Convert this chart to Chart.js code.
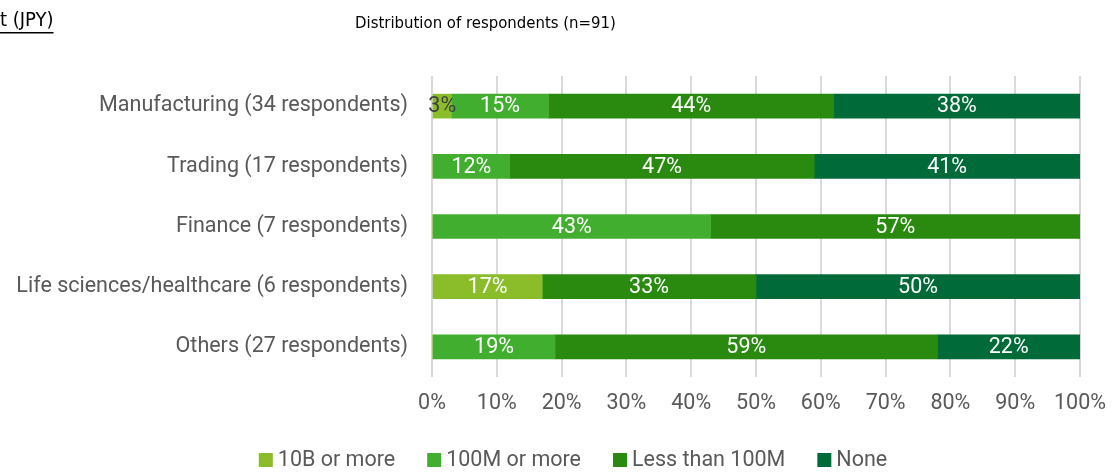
<!DOCTYPE html>
<html>
<head>
<meta charset="utf-8">
<script src="https://cdn.jsdelivr.net/npm/chart.js@4.4.1/dist/chart.umd.min.js"></script>
<style>
  html, body { margin: 0; padding: 0; background: #ffffff; }
  #wrap { width: 1118px; height: 473px; position: relative; }
</style>
</head>
<body>
<div id="wrap"><canvas id="chart"></canvas></div>
<script>
// Industry groups (y axis)
const categories = [
  'Manufacturing (34 respondents)',
  'Trading (17 respondents)',
  'Finance (7 respondents)',
  'Life sciences/healthcare (6 respondents)',
  'Others (27 respondents)'
];

// Share of respondents per answer, in percent
const seriesNames = ['10B or more', '100M or more', 'Less than 100M', 'None'];
const tenBOrMore     = [3, 0, 0, 17, 0];
const hundredMOrMore = [15, 12, 43, 0, 19];
const lessThan100M   = [44, 47, 57, 33, 59];
const noneValues     = [38, 41, 0, 50, 22];

const xTicks = [0, 10, 20, 30, 40, 50, 60, 70, 80, 90, 100];

const colors = ['#8BBD2A', '#42AE2F', '#2A8A10', '#006A38'];
const FONT = 'Roboto, "Noto Sans", sans-serif';
const SIZE = 21.5;
const GREY = '#595959';

// Percent labels drawn in the middle of each segment
const segmentLabels = {
  id: 'segmentLabels',
  afterDatasetsDraw(chart) {
    const ctx = chart.ctx;
    ctx.save();
    ctx.font = SIZE + 'px ' + FONT;
    ctx.textAlign = 'center';
    ctx.textBaseline = 'middle';
    chart.data.datasets.forEach((ds, di) => {
      const meta = chart.getDatasetMeta(di);
      meta.data.forEach((bar, i) => {
        const v = ds.data[i];
        if (!v) return;
        const text = v + '%';
        const w = Math.abs(bar.x - bar.base);
        const tw = ctx.measureText(text).width;
        ctx.fillStyle = tw + 4 > w ? '#404040' : '#ffffff';
        ctx.fillText(text, (bar.x + bar.base) / 2, bar.y + 1);
      });
    });
    ctx.restore();
  }
};

// Heading texts and the legend row under the axis
const decorations = {
  id: 'decorations',
  afterDraw(chart) {
    const ctx = chart.ctx;
    ctx.save();
    ctx.textBaseline = 'middle';
    ctx.fillStyle = '#000000';
    ctx.textAlign = 'left';
    ctx.font = '20px "DejaVu Sans Condensed", "DejaVu Sans", sans-serif';
    const t = 't (JPY)';
    ctx.fillText(t, 0, 21);
    ctx.fillRect(0, 32, ctx.measureText(t).width, 1.5);
    ctx.font = '16.6px "DejaVu Sans Condensed", "DejaVu Sans", sans-serif';
    ctx.fillText('Distribution of respondents (n=91)', 355, 24);

    // legend
    ctx.font = SIZE + 'px ' + FONT;
    const box = 14, gapText = 5, gapItem = 32;
    const items = chart.data.datasets.map(d => ({
      label: d.label, color: d.backgroundColor,
      w: box + gapText + ctx.measureText(d.label).width
    }));
    const total = items.reduce((s, it) => s + it.w, 0) + gapItem * (items.length - 1);
    let x = (chart.width - total) / 2 + 14;
    const y = 460;
    items.forEach(it => {
      ctx.fillStyle = it.color;
      ctx.fillRect(x, y - box / 2, box, box);
      ctx.fillStyle = GREY;
      ctx.fillText(it.label, x + box + gapText, y + 1);
      x += it.w + gapItem;
    });
    ctx.restore();
  }
};

const values = [tenBOrMore, hundredMOrMore, lessThan100M, noneValues];

new Chart(document.getElementById('chart'), {
  type: 'bar',
  data: {
    labels: categories,
    datasets: seriesNames.map((name, k) => ({
      label: name,
      data: values[k],
      backgroundColor: colors[k],
      borderWidth: 0,
      barThickness: 24
    }))
  },
  options: {
    indexAxis: 'y',
    responsive: true,
    maintainAspectRatio: false,
    animation: false,
    layout: { padding: { top: 76, left: 0, right: 0, bottom: 56 } },
    plugins: {
      legend: { display: false },
      tooltip: { enabled: false }
    },
    scales: {
      x: {
        stacked: true,
        min: 0,
        max: 100,
        afterBuildTicks(scale) { scale.ticks = xTicks.map(v => ({ value: v })); },
        afterFit(scale) { scale.height = 40; scale.paddingRight = 38; },
        ticks: {
          callback: v => v + '%',
          font: { family: FONT, size: SIZE },
          color: GREY,
          padding: 14,
          maxRotation: 0,
          autoSkip: false
        },
        grid: { color: '#D9D9D9', lineWidth: 2, drawTicks: false },
        border: { display: false }
      },
      y: {
        stacked: true,
        afterFit(scale) { scale.width = 432; },
        ticks: {
          font: { family: FONT, size: SIZE },
          color: GREY,
          padding: 24
        },
        grid: { display: false, drawTicks: false },
        border: { display: false }
      }
    }
  },
  plugins: [segmentLabels, decorations]
});
</script>
</body>
</html>
